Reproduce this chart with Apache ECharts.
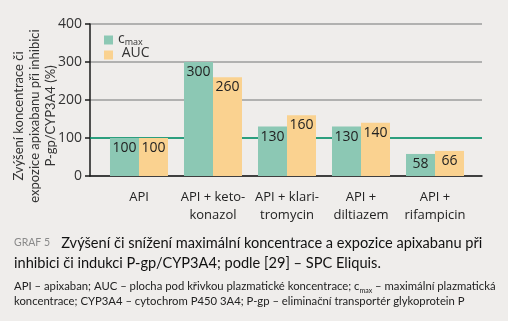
<!DOCTYPE html>
<html><head><meta charset="utf-8">
<script src="https://cdn.jsdelivr.net/npm/echarts@6/dist/echarts.min.js"></script>
<style>html,body{margin:0;padding:0;background:#efedeb}#c{width:508px;height:321px}</style>
</head><body><div id="c"></div>
<script>
const categories = ['API', 'API + keto-\nkonazol', 'API + klari-\ntromycin', 'API +\ndiltiazem', 'API +\nrifampicin'];
const cmaxValues = [100, 300, 130, 130, 58];
const aucValues = [100, 260, 160, 140, 66];
const yTicks = [0, 100, 200, 300, 400];

const FONT = '"Open Sans", "Noto Sans", sans-serif';
const TFONT = 'Lato, "Open Sans", sans-serif';
const chart = echarts.init(document.getElementById('c'), null, {renderer: 'canvas'});
const catIdx = categories.map((_, i) => i);
chart.setOption({
  backgroundColor: '#efedeb',
  animation: false,
  textStyle: {fontFamily: FONT},
  grid: {left: 90, right: 26, top: 24, height: 152},
  legend: {
    left: 99, top: 27, orient: 'vertical', itemWidth: 9, itemHeight: 9, itemGap: 0,
    icon: 'rect',
    textStyle: {fontFamily: FONT, fontSize: 14, color: '#333', height: 17,
      rich: {sub: {fontSize: 9, color: '#333', verticalAlign: 'bottom', padding: [6, 0, 0, 0]}}},
    formatter: n => n === 'cmax' ? 'c{sub|max}' : ' AUC',
    data: ['cmax', 'AUC']
  },
  xAxis: {
    type: 'value', min: -0.662, max: 4.635,
    splitLine: {show: false},
    axisLine: {show: true, onZero: false, lineStyle: {color: '#1a1a1a', width: 1.5}},
    axisTick: {show: false},
    axisLabel: {
      customValues: catIdx, showMinLabel: true, showMaxLabel: true,
      formatter: v => categories[Math.round(v)] || '',
      margin: 12, fontSize: 13, color: '#222', lineHeight: 18, fontFamily: FONT
    }
  },
  yAxis: {
    type: 'value', min: 0, max: 400, interval: 100,
    axisLine: {show: true, onZero: false, lineStyle: {color: '#1a1a1a', width: 1.5}},
    axisTick: {show: true, length: 5, lineStyle: {color: '#1a1a1a', width: 1.5}},
    axisLabel: {fontSize: 14, color: '#333', margin: 8, fontFamily: FONT},
    splitLine: {show: true, lineStyle: {color: '#9c9c9c', width: 1.5}}
  },
  series: [
    {
      name: 'cmax', type: 'bar', barWidth: 29, barGap: '0%',
      itemStyle: {color: '#8cc8b4'},
      data: cmaxValues.map((v, i) => [i, v]),
      label: {show: true, position: 'insideTop', distance: 3, fontSize: 14, color: '#222', fontFamily: FONT,
        formatter: p => p.value[1]},
      markLine: {
        silent: true, symbol: 'none', label: {show: false},
        lineStyle: {color: '#009a6e', width: 1.5, type: 'solid'},
        data: [{yAxis: 100}], z: 1
      }
    },
    {
      name: 'AUC', type: 'bar', barWidth: 29, barGap: '0%',
      itemStyle: {color: '#fad290'},
      data: aucValues.map((v, i) => [i, v]),
      label: {show: true, position: 'insideTop', distance: 3, fontSize: 14, color: '#222', fontFamily: FONT,
        formatter: p => p.value[1]}
    }
  ],
  graphic: [
    {type: 'text', x: 35, y: 116, rotation: Math.PI / 2, style: {
      text: 'Zvýšení koncentrace či\nexpozice apixabanu při inhibici\nP-gp/CYP3A4 (%)',
      fill: '#333', font: '13px ' + TFONT, align: 'center', verticalAlign: 'middle', lineHeight: 16}},
    {type: 'text', x: 14, y: 233, style: {
      text: '{g|GRAF 5}   Zvýšení či snížení maximální koncentrace a expozice apixabanu při\ninhibici či indukci P-gp/CYP3A4; podle [29] – SPC Eliquis.',
      fill: '#111', font: '14.6px ' + TFONT, lineHeight: 20,
      rich: {g: {fill: '#8a8a8a', font: '10.5px ' + TFONT}}}},
    {type: 'text', x: 14, y: 279, style: {
      text: 'API – apixaban; AUC – plocha pod křivkou plazmatické koncentrace; c{s|max} – maximální plazmatická\nkoncentrace; CYP3A4 – cytochrom P450 3A4; P-gp – eliminační transportér glykoprotein P',
      fill: '#222', font: '11.3px ' + TFONT, lineHeight: 15,
      rich: {s: {font: '7px ' + TFONT, fill: '#222', verticalAlign: 'bottom', padding: [4, 0, 0, 0]}}}}
  ]
});
</script></body></html>
